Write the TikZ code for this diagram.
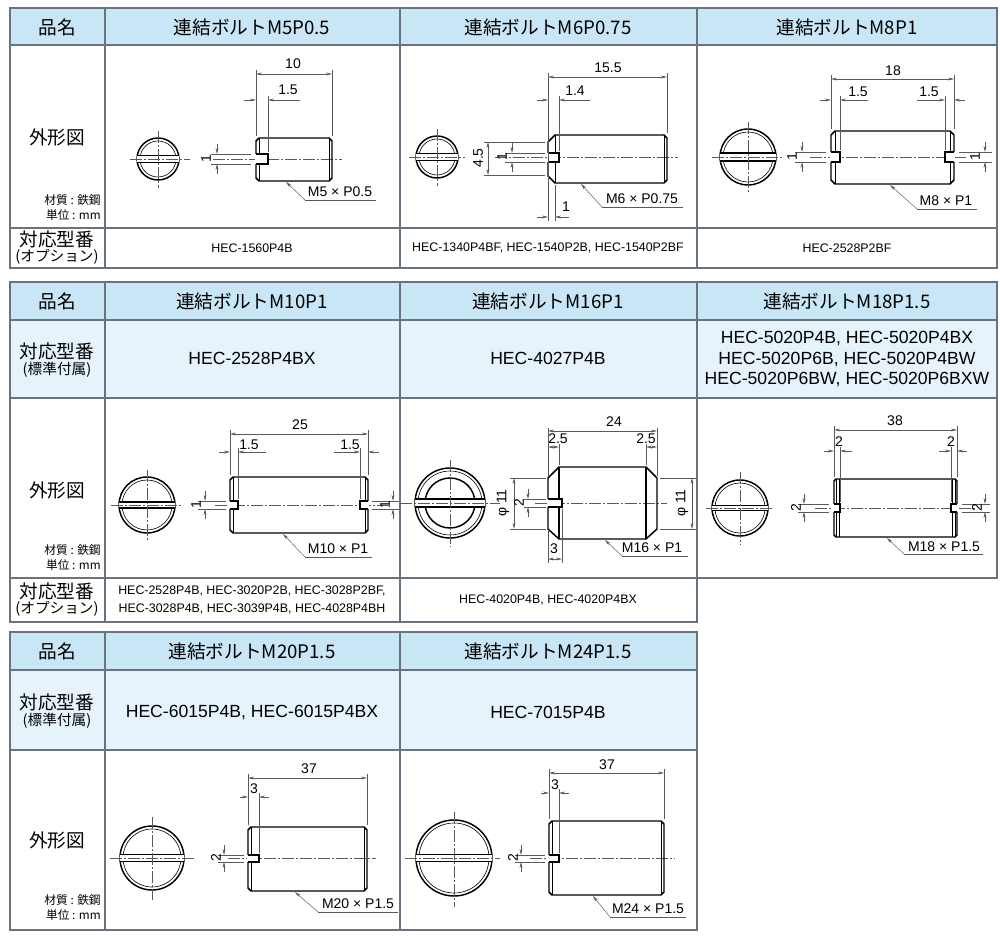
\documentclass[tikz,border=0pt]{standalone}
\usepackage{fontspec}
\setmainfont{Liberation Sans}
\newfontfamily\jp{Noto Sans CJK JP}
\usetikzlibrary{arrows.meta}
\definecolor{hdr}{RGB}{200,230,246}
\definecolor{rowc}{RGB}{230,243,251}
\definecolor{gridc}{RGB}{105,115,125}
\definecolor{dimc}{RGB}{90,90,90}
\tikzset{
 part/.style={line width=1.1pt,black},
 thinpart/.style={line width=0.45pt,black},
 extl/.style={line width=0.35pt,dimc},
 dimln/.style={line width=0.35pt,dimc,arrows={-Stealth[length=4.5pt,width=2.2pt]}},
 dimboth/.style={line width=0.35pt,dimc,arrows={Stealth[length=4.5pt,width=2.2pt]-Stealth[length=4.5pt,width=2.2pt]}},
 cl/.style={line width=0.35pt,dimc,dash pattern=on 9pt off 1.5pt on 1.5pt off 1.5pt},
 gridl/.style={line width=0.8pt,gridc},
 dt/.style={font=\fontsize{10.5}{10}\selectfont,inner sep=0pt},
 ht/.style={font=\jp\fontsize{14}{14}\selectfont,inner sep=0pt},
 lt/.style={font=\jp\fontsize{14}{14}\selectfont,inner sep=0pt},
 st/.style={font=\jp\fontsize{11}{12}\selectfont,inner sep=0pt},
 mt/.style={font=\jp\fontsize{8.8}{9}\selectfont,inner sep=0pt,anchor=east},
 ot/.style={font=\fontsize{9.3}{13.5}\selectfont,inner sep=0pt,align=center},
 bt/.style={font=\fontsize{13.2}{15.5}\selectfont,inner sep=0pt,align=center},
}
\newcommand\bEnd[4]{%
 \pgfmathsetmacro\bhw{sqrt(#3*#3-#4*#4)}
 \draw[part] (#1,#2) circle[radius=#3];
 \draw[thinpart] (#1,#2) circle[radius=#3-3];
 \fill[white] (#1-\bhw,#2-#4) rectangle (#1+\bhw,#2+#4);
 \draw[part] (#1-\bhw,#2-#4)--(#1+\bhw,#2-#4) (#1-\bhw,#2+#4)--(#1+\bhw,#2+#4);}
\newcommand\bSide[5]{%
 \draw[part] (#1,#3+#5)--(#1+#5,#3)--(#2-#5,#3)--(#2,#3+#5)--(#2,#4-#5)--(#2-#5,#4)--(#1+#5,#4)--(#1,#4-#5)--cycle;
 \draw[thinpart] (#1+#5,#3)--(#1+#5,#4) (#2-#5,#3)--(#2-#5,#4);}
\newcommand\bSlotL[4]{%
 \fill[white] (#1-1,#3) rectangle (#1+#2,#4);
 \draw[part] (#1,#3)--(#1+#2,#3)--(#1+#2,#4)--(#1,#4);}
\newcommand\bSlotR[4]{%
 \fill[white] (#1+1,#3) rectangle (#1-#2,#4);
 \draw[part] (#1,#3)--(#1-#2,#3)--(#1-#2,#4)--(#1,#4);}
\newcommand\dIn[3]{\draw[dimboth] (#1,#3)--(#2,#3);}
\newcommand\dOut[5]{\draw[dimln] (#1-#4,#3)--(#1,#3); \draw[dimln] (#2+#5,#3)--(#2,#3);}
\newcommand\vOut[3]{\draw[dimln] (#1,#2-10)--(#1,#2); \draw[dimln] (#1,#3+10)--(#1,#3);}
\begin{document}
\begin{tikzpicture}[x=0.75pt,y=-0.75pt]
\fill[white] (0,0) rectangle (1000,937);
\useasboundingbox (0,0) rectangle (1000,937);
% ---------- tables ----------
\fill[hdr] (10,8) rectangle (997,45);
\draw[gridl] (10,8) rectangle (997,268) (10,45)--(997,45) (10,228)--(997,228)
 (105,8)--(105,268) (400,8)--(400,268) (697,8)--(697,268);
\fill[hdr] (10,282) rectangle (997,320);
\fill[rowc] (10,320) rectangle (997,398);
\draw[gridl] (10,282)--(997,282)--(997,578)--(697,578)--(697,622)--(10,622)--cycle
 (10,320)--(997,320) (10,398)--(997,398) (10,578)--(997,578)
 (105,282)--(105,622) (400,282)--(400,622) (697,282)--(697,622);
\fill[hdr] (10,632) rectangle (697,670);
\fill[rowc] (10,670) rectangle (697,750);
\draw[gridl] (10,632) rectangle (697,930) (10,670)--(697,670) (10,750)--(697,750)
 (105,632)--(105,930) (400,632)--(400,930);
% ---------- header texts ----------
\node[ht] (h1) at (57,27) {品名};
\node[ht] (h2) at (252,27) {連結ボルトM5P0.5};
\node[ht] (h3) at (548,27) {連結ボルトM6P0.75};
\node[ht] (h4) at (847,27) {連結ボルトM8P1};
\node[ht] (h5) at (57,301) {品名};
\node[ht] (h6) at (252,301) {連結ボルトM10P1};
\node[ht] (h7) at (548,301) {連結ボルトM16P1};
\node[ht] (h8) at (847,301) {連結ボルトM18P1.5};
\node[ht] (h9) at (57,651) {品名};
\node[ht] (h10) at (252,651) {連結ボルトM20P1.5};
\node[ht] (h11) at (548,651) {連結ボルトM24P1.5};
% left labels
\node[lt] (g1) at (57,137) {外形図};
\node[lt] (g2) at (57,490) {外形図};
\node[lt] (g3) at (57,840) {外形図};
\node[mt] (m1) at (101,200) {材質 : 鉄鋼};
\node[mt] (m2) at (101,215) {単位 : mm};
\node[mt] (m3) at (101,550) {材質 : 鉄鋼};
\node[mt] (m4) at (101,565) {単位 : mm};
\node[mt] (m5) at (101,900) {材質 : 鉄鋼};
\node[mt] (m6) at (101,915) {単位 : mm};
\node[lt] (k1) at (57,239) {対応型番};
\node[st] (k1b) at (57,257) {(オプション)};
\node[lt] (k2) at (57,351) {対応型番};
\node[st] (k2b) at (57,370) {(標準付属)};
\node[lt] (k3) at (57,591) {対応型番};
\node[st] (k3b) at (57,609) {(オプション)};
\node[lt] (k4) at (57,702) {対応型番};
\node[st] (k4b) at (57,721) {(標準付属)};
% part numbers
\node[ot] (o1) at (252,248) {HEC-1560P4B};
\node[ot] (o2) at (548,248) {HEC-1340P4BF, HEC-1540P2B, HEC-1540P2BF};
\node[ot] (o3) at (847,248) {HEC-2528P2BF};
\node[bt] (s1) at (252,358) {HEC-2528P4BX};
\node[bt] (s2) at (548,358) {HEC-4027P4B};
\node[bt] (s3) at (847,359) {HEC-5020P4B, HEC-5020P4BX\\HEC-5020P6B, HEC-5020P4BW\\HEC-5020P6BW, HEC-5020P6BXW};
\node[ot] (o4) at (252,600) {HEC-2528P4B, HEC-3020P2B, HEC-3028P2BF,\\HEC-3028P4B, HEC-3039P4B, HEC-4028P4BH};
\node[ot] (o5) at (548,600) {HEC-4020P4B, HEC-4020P4BX};
\node[bt] (s4) at (252,712) {HEC-6015P4B, HEC-6015P4BX};
\node[bt] (s5) at (548,712) {HEC-7015P4B};
% ---------- D1 M5 ----------
\bEnd{158}{159}{21}{3.5}
\draw[cl] (130,159)--(190,159) (158,131)--(158,188) (213,159)--(342,159);
\bSide{256}{332}{138}{181}{3}
\bSlotL{256}{12}{154}{164}
\draw[extl] (256,70)--(256,136) (332,70)--(332,136) (268,96)--(268,152)
 (211,154)--(251,154) (211,164)--(251,164);
\dIn{256}{332}{74} \node[dt] (t1) at (293,64) {10};
\dOut{256}{268}{100}{12}{32} \node[dt] (t2) at (288,90) {1.5};
\vOut{217}{154}{164} \node[dt,rotate=90] (t3) at (206,159) {1};
\draw[dimln] (305,200)--(286,182); \draw[extl] (305,200)--(376,200);
\node[dt] (t4) at (340,192) {M5 × P0.5};
% ---------- D2 M6 ----------
\bEnd{437}{157}{21}{3.5}
\draw[cl] (409,157)--(465,157) (437,129)--(437,186) (495,157)--(678,157);
\draw[part] (548,142)--(555,135)--(664,135)--(667,138)--(667,180)--(664,183)--(555,183)--(548,176)--cycle;
\draw[thinpart] (555,135)--(555,183) (664,135)--(664,183);
\bSlotL{548}{11}{153}{162}
\draw[extl] (548,73)--(548,221) (667,73)--(667,133) (559,96)--(559,151) (555,185)--(555,221)
 (484,142)--(545,142) (484,175)--(545,175) (505,153)--(545,153) (505,162)--(545,162);
\dIn{548}{667}{77} \node[dt] (t5) at (608,68) {15.5};
\dOut{548}{559}{100}{11}{31} \node[dt] (t6) at (575,91) {1.4};
\draw[dimboth] (488,142)--(488,175); \node[dt,rotate=90] (t7) at (478,158) {4.5};
\vOut{512}{153}{162} \node[dt,rotate=90] (t8) at (502,157) {1};
\dOut{548}{555}{217}{11}{14} \node[dt] (t9) at (566,207) {1};
\draw[dimln] (602,207)--(581,184); \draw[extl] (602,207)--(683,207);
\node[dt] (t10) at (642,199) {M6 × P0.75};
% ---------- D3 M8 ----------
\bEnd{748}{157}{28}{4}
\draw[cl] (712,157)--(784,157) (748,122)--(748,193) (810,157)--(968,157);
\bSide{831}{954}{131}{184}{4}
\bSlotL{831}{9}{152}{162} \bSlotR{954}{9}{152}{162}
\draw[extl] (831,75)--(831,129) (954,75)--(954,129) (840,96)--(840,150) (945,96)--(945,150)
 (795,152)--(826,152) (795,162)--(826,162) (959,152)--(992,152) (959,162)--(992,162);
\dIn{831}{954}{79} \node[dt] (t11) at (893,71) {18};
\dOut{831}{840}{100}{11}{28} \node[dt] (t12) at (858,92) {1.5};
\dOut{945}{954}{100}{28}{11} \node[dt] (t13) at (929,92) {1.5};
\vOut{802}{152}{162} \node[dt,rotate=90] (t14) at (792,157) {1};
\vOut{985}{152}{162} \node[dt,rotate=90] (t15) at (975,157) {1};
\draw[dimln] (917,209)--(890,185); \draw[extl] (917,209)--(977,209);
\node[dt] (t16) at (946,201) {M8 × P1};
% ---------- D4 M10 ----------
\bEnd{147}{505}{28}{3}
\draw[cl] (111,505)--(183,505) (147,470)--(147,540) (215,505)--(388,505);
\bSide{230}{368}{477}{533}{3}
\bSlotL{230}{8}{501}{509} \bSlotR{368}{8}{501}{509}
\draw[extl] (230,430)--(230,475) (368,430)--(368,475) (238,448)--(238,499) (360,448)--(360,499)
 (198,501)--(226,501) (198,509)--(226,509) (372,501)--(399,501) (372,509)--(399,509);
\dIn{230}{368}{434} \node[dt] (t17) at (300,425) {25};
\dOut{230}{238}{452}{11}{28} \node[dt] (t18) at (249,445) {1.5};
\dOut{360}{368}{452}{26}{11} \node[dt] (t19) at (350,445) {1.5};
\vOut{205}{501}{509} \node[dt,rotate=90] (t20) at (196,505) {1};
\vOut{393}{501}{509} \node[dt,rotate=90] (t21) at (385,505) {1};
\draw[dimln] (305,557)--(283,534); \draw[extl] (305,557)--(372,557);
\node[dt] (t22) at (338,549) {M10 × P1};
% ---------- D5 M16 ----------
\draw[part] (450,503) circle[radius=35];
\draw[thinpart] (450,503) circle[radius=32];
\draw[part] (450,503) circle[radius=25];
\fill[white] (415.2,499) rectangle (484.8,507);
\draw[part] (415.2,499)--(484.8,499) (415.2,507)--(484.8,507);
\draw[cl] (400,503)--(500,503) (450,460)--(450,547) (535,503)--(667,503);
\draw[part] (548,478)--(559,467)--(646,467)--(657,478)--(657,529)--(646,539)--(559,539)--(548,529)--cycle;
\draw[part] (559,467)--(559,539) (646,467)--(646,539);
\bSlotL{548}{14}{499}{507}
\draw[extl] (548,428)--(548,476) (657,428)--(657,476) (559,444)--(559,465) (646,444)--(646,465)
 (510,478)--(546,478) (510,529)--(546,529) (524,499)--(546,499) (524,507)--(546,507)
 (660,478)--(696,478) (660,529)--(696,529) (548,531)--(548,563) (562,509)--(562,563);
\dIn{548}{657}{431} \node[dt] (t23) at (614,422) {24};
\dIn{548}{559}{447} \node[dt] (t24) at (558,439) {2.5};
\dIn{646}{657}{447} \node[dt] (t25) at (646,439) {2.5};
\draw[dimboth] (514,478)--(514,529); \node[dt,rotate=90] (t26) at (503,503) {φ 11};
\vOut{528}{499}{507} \node[dt,rotate=90] (t27) at (519,503) {2};
\draw[dimboth] (692,478)--(692,529); \node[dt,rotate=90] (t28) at (682,503) {φ 11};
\dIn{548}{562}{559} \node[dt] (t29) at (554,549) {3};
\draw[dimln] (622,556)--(605,540); \draw[extl] (622,556)--(688,556);
\node[dt] (t30) at (652,548) {M16 × P1};
% ---------- D6 M18 ----------
\bEnd{740}{508}{28}{2.5}
\draw[cl] (706,508)--(774,508) (740,472)--(740,545) (815,508)--(975,508);
\bSide{834}{957}{479}{537}{2}
\draw[thinpart] (839,479)--(839,537) (952,479)--(952,537);
\bSlotL{834}{6}{504}{512} \bSlotR{957}{6}{504}{512}
\draw[extl] (834,426)--(834,477) (957,426)--(957,477) (840,447)--(840,502) (951,447)--(951,502)
 (798,504)--(829,504) (798,512)--(829,512) (962,504)--(990,504) (962,512)--(990,512);
\dIn{834}{957}{430} \node[dt] (t31) at (895,421) {38};
\dOut{834}{840}{451}{10}{12} \node[dt] (t32) at (839,442) {2};
\dOut{951}{957}{451}{12}{10} \node[dt] (t33) at (951,442) {2};
\vOut{804}{504}{512} \node[dt,rotate=90] (t34) at (796,508) {2};
\vOut{985}{504}{512} \node[dt,rotate=90] (t35) at (977,508) {2};
\draw[dimln] (904,554)--(887,538); \draw[extl] (904,554)--(983,554);
\node[dt] (t36) at (944,547) {M18 × P1.5};
% ---------- D7 M20 ----------
\bEnd{152}{858}{32}{3.5}
\draw[cl] (110,858)--(196,858) (152,817)--(152,900) (228,858)--(376,858);
\bSide{248}{367}{827}{891}{3}
\bSlotL{248}{11}{855}{862}
\draw[extl] (248,774)--(248,825) (367,774)--(367,825) (259,793)--(259,853)
 (218,855)--(244,855) (218,862)--(244,862);
\dIn{248}{367}{778} \node[dt] (t37) at (309,769) {37};
\dOut{248}{259}{797}{8}{10} \node[dt] (t38) at (254,789) {3};
\vOut{224}{855}{862} \node[dt,rotate=90] (t39) at (216,858) {2};
\draw[dimln] (318,912)--(295,892); \draw[extl] (318,912)--(398,912);
\node[dt] (t40) at (358,904) {M20 × P1.5};
% ---------- D8 M24 ----------
\bEnd{454}{858}{38}{3.5}
\draw[cl] (405,858)--(500,858) (454,812)--(454,907) (530,858)--(675,858);
\bSide{549}{664}{821}{895}{3}
\bSlotL{549}{10}{855}{862}
\draw[extl] (549,769)--(549,819) (664,769)--(664,819) (559,789)--(559,853)
 (515,855)--(545,855) (515,862)--(545,862);
\dIn{549}{664}{773} \node[dt] (t41) at (607,765) {37};
\dOut{549}{559}{793}{8}{10} \node[dt] (t42) at (555,785) {3};
\vOut{521}{855}{862} \node[dt,rotate=90] (t43) at (513,858) {2};
\draw[dimln] (610,917)--(593,896); \draw[extl] (610,917)--(686,917);
\node[dt] (t44) at (648,909) {M24 × P1.5};
\end{tikzpicture}
\end{document}
